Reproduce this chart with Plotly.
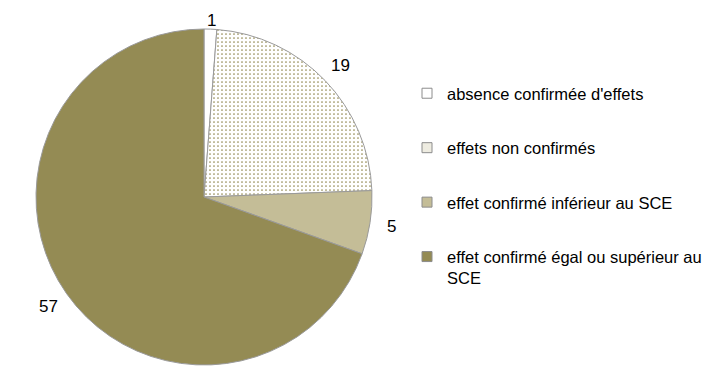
import math
import plotly.graph_objects as go

labels = ["absence confirmée d'effets", "effets non confirmés",
          "effet confirmé inférieur au SCE", "effet confirmé égal ou supérieur au<br>SCE"]
values = [1, 19, 5, 57]
colors = ["#FFFFFF", "#FFFFFF", "#C4BD97", "#948B54"]
legend_colors = ["#FFFFFF", "#EEECE1", "#C4BD97", "#948B54"]
patterns = ["", ".", "", ""]

FONT = "Liberation Sans, Arial, sans-serif"
W, H = 714, 375
OFF = 8  # page body margin compensation
CX, CY, R = 204 - OFF, 197 - OFF, 168
LABEL_R = 190
MIN_LABEL_Y = 12  # keep labels inside the figure

fig = go.Figure()
fig.add_trace(go.Pie(
    labels=labels, values=values, sort=False, direction="clockwise", rotation=0,
    marker=dict(colors=colors, line=dict(color="#9A9A9A", width=1),
                pattern=dict(shape=patterns, fgcolor="#948B54", bgcolor="#FFFFFF",
                             size=4, solidity=0.15)),
    textinfo="none",
    showlegend=False, hoverinfo="label+value",
    domain=dict(x=[(CX - R) / W, (CX + R) / W], y=[1 - (CY + R) / H, 1 - (CY - R) / H]),
))

# value labels placed outside each slice, at its mid-angle
total = sum(values)
cum = 0
for v in values:
    mid = (cum + v / 2) / total * 2 * math.pi
    cum += v
    px = CX + LABEL_R * math.sin(mid)
    py = max(CY - LABEL_R * math.cos(mid), MIN_LABEL_Y)
    fig.add_annotation(x=px / W, y=1 - py / H, xref="paper", yref="paper",
                       xanchor="center", yanchor="middle", borderpad=0,
                       text=str(v), showarrow=False,
                       font=dict(family=FONT, size=17, color="#000000"))

for i, lab in enumerate(labels):
    fig.add_trace(go.Scatter(
        x=[None], y=[None], mode="markers", name=lab, legendgroup=f"g{i}",
        marker=dict(symbol="square", size=10, color=legend_colors[i],
                    line=dict(color="#8C8C8C", width=1)),
        showlegend=True,
    ))

fig.update_layout(
    width=W, height=H, margin=dict(l=0, r=0, t=0, b=0),
    paper_bgcolor="white", plot_bgcolor="white",
    xaxis=dict(visible=False), yaxis=dict(visible=False),
    font=dict(family=FONT, size=16.5, color="#000000"),
    legend=dict(x=(407 - OFF) / W, xanchor="left", y=1 - 68 / H, yanchor="top",
                tracegroupgap=30, font=dict(family=FONT, size=16.5, color="#000000"),
                bgcolor="rgba(0,0,0,0)", itemclick=False, valign="top"),
)

fig.write_html("out.html")
